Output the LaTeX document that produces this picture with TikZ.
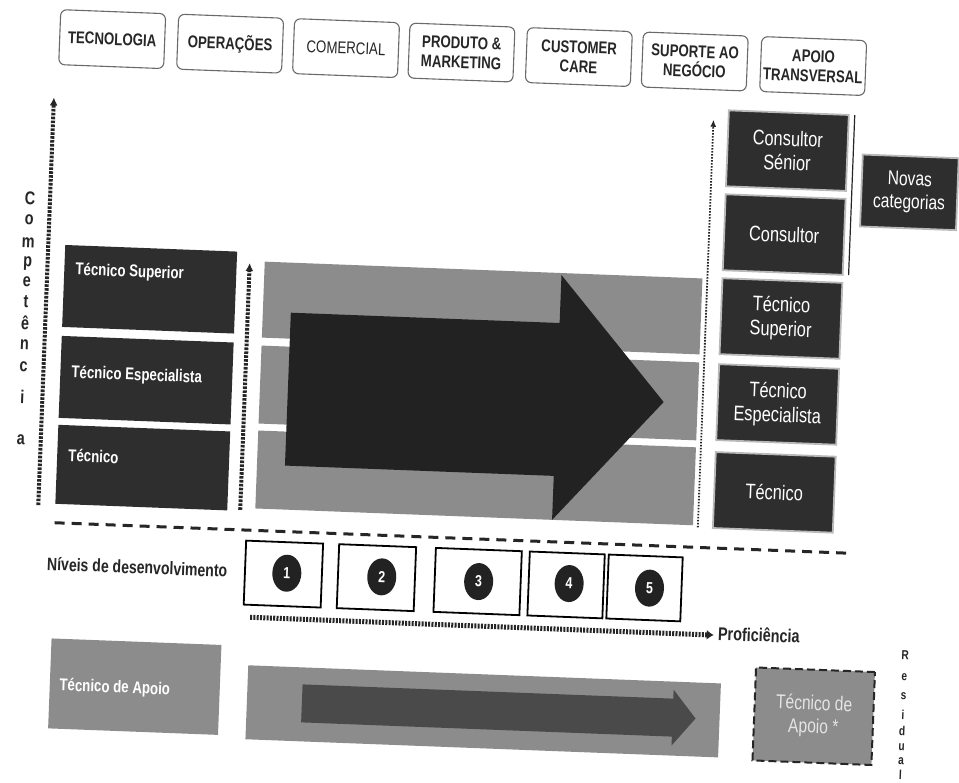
\documentclass[tikz,border=0pt]{standalone}
\usepackage{fontspec}
\setmainfont{Liberation Sans}[FakeStretch=0.78]
\usetikzlibrary{arrows.meta,shapes.geometric}
\definecolor{dk}{HTML}{2E2E2E}
\definecolor{dkarrow}{HTML}{222222}
\definecolor{band}{HTML}{8C8C8C}
\definecolor{midarrow}{HTML}{4A4A4A}
\definecolor{frame}{HTML}{6A6A6A}
\definecolor{ink}{HTML}{262626}
\definecolor{softwhite}{HTML}{E4E4E4}
\begin{document}
\begin{tikzpicture}[x=1pt,y=-1pt,
  topbox/.style={draw=frame,line width=1.1pt,rounded corners=6pt,minimum width=105pt,minimum height=55pt,inner sep=0pt,align=center,text=ink,font={\bfseries\fontsize{17}{19.5}\selectfont}},
  topboxreg/.style={topbox,font={\fontsize{17}{19.5}\selectfont}},
  lbox/.style={fill=dk,minimum width=172pt,inner sep=0pt},
  llabel/.style={anchor=west,inner sep=0pt,text=white,font={\bfseries\fontsize{17}{18}\selectfont}},
  rbox/.style={fill=dk,draw=gray!55,line width=1.8pt,minimum width=120pt,minimum height=76pt,inner sep=0pt,align=center,text=white,font={\fontsize{21}{24}\selectfont}},
  lvlbox/.style={draw=black,line width=1.8pt,fill=white,minimum height=64pt,inner sep=0pt},
  lvlnum/.style={ellipse,fill=dkarrow,minimum width=29pt,minimum height=37pt,inner sep=0pt,text=white,font={\bfseries\fontsize{16}{16}\selectfont}},
  axislet/.style={inner sep=0pt,text=ink,font={\bfseries\fontsize{18.5}{19}\selectfont}},
  reslet/.style={inner sep=0pt,text=ink,font={\bfseries\fontsize{13}{13}\selectfont}},
  thickaxis/.style={draw=ink,line width=4pt,dash pattern=on 2.6pt off 1.3pt,-{Latex[length=8pt,width=8pt]}},
  thinaxis/.style={draw=ink,line width=1.8pt,dash pattern=on 1.6pt off 1.4pt,-{Latex[length=7pt,width=6pt]}},
  sepline/.style={draw=ink,line width=3pt,dash pattern=on 10pt off 7pt}
]
\fill[white] (0,0) rectangle (959,783);
\useasboundingbox (0,0) rectangle (959,783);
\begin{scope}[rotate around={-2.2:(480,390)},transform shape]

% top categories
\node[topbox]    (tec) at (99,53.5)    {TECNOLOGIA};
\node[topbox]    (ope) at (217,53.5)   {OPERAÇÕES};
\node[topboxreg] (com) at (333,53.5)   {COMERCIAL};
\node[topbox]    (pro) at (448.5,53.5) {PRODUTO \&\\MARKETING};
\node[topbox]    (cus) at (566,53.5)   {CUSTOMER\\CARE};
\node[topbox]    (sup) at (682,53.5)   {SUPORTE AO\\NEGÓCIO};
\node[topbox]    (apo) at (800.5,53.5) {APOIO\\TRANSVERSAL};

% competencia axis
\coordinate (ax1s) at (43,522);
\coordinate (ax1e) at (43,114);
\draw[thickaxis] (ax1s) -- (ax1e);
\foreach \ch/\yy [count=\k] in {C/215.7,o/237.4,m/260.7,p/280.7,e/299.1,t/319.1,ê/340.7,n/362.4,c/384.1,i/414.1,a/457.4}
  \node[axislet] (comp\k) at (23,\yy) {\ch};

% left boxes
\node[lbox,minimum height=82pt] (lts) at (146,302) {};
\node[lbox,minimum height=82pt] (lte) at (146,393) {};
\node[lbox,minimum height=79pt] (lt)  at (146,480.5) {};
\node[llabel] (ltsl) at (71,286) {Técnico Superior};
\node[llabel] (ltel) at (71,389) {Técnico Especialista};
\node[llabel] (ltl)  at (71,471) {Técnico};

% second axis
\coordinate (ax2s) at (245,519);
\coordinate (ax2e) at (245,272);
\draw[thickaxis] (ax2s) -- (ax2e);

% bands
\fill[band] (260,270) rectangle (698,346);
\fill[band] (260,354) rectangle (698,432);
\fill[band] (260,439) rectangle (698,517);
% big arrow
\fill[dkarrow] (288,320) -- (557,320) -- (557,272) -- (664,395) -- (557,517) -- (557,473) -- (288,473) -- cycle;

% right axis
\coordinate (ax3s) at (703,519);
\coordinate (ax3e) at (703,111);
\draw[thinaxis] (ax3s) -- (ax3e);

% right boxes
\node[rbox] (rcs) at (778,139) {Consultor\\Sénior};
\node[rbox] (rc)  at (778,223) {Consultor};
\node[rbox] (rts) at (778,307) {Técnico\\Superior};
\node[rbox] (rte) at (778,393) {Técnico\\Especialista};
\node[rbox] (rt)  at (778,481) {Técnico};
\coordinate (br1) at (844,101);
\coordinate (br2) at (844,261);
\draw[ink,line width=1.2pt] (br1) -- (br2);
\node[rbox,minimum width=96pt,minimum height=72pt,font={\fontsize{20}{23}\selectfont}] (nov) at (901.5,176) {Novas\\categorias};

% separator
\coordinate (sep1) at (60,539);
\coordinate (sep2) at (856,539);
\draw[sepline] (sep1) -- (sep2);

% levels
\node[inner sep=0pt,text=ink,font={\bfseries\fontsize{18}{18}\selectfont}] (niv) at (144.3,580.2) {Níveis de desenvolvimento};
\node[lvlbox,minimum width=77pt] (lv1) at (290.6,581.5) {};
\node[lvlbox,minimum width=77pt] (lv2) at (383.7,581.5) {};
\node[lvlbox,minimum width=86pt] (lv3) at (485,581.5) {};
\node[lvlbox,minimum width=75pt] (lv4) at (573.5,581.5) {};
\node[lvlbox,minimum width=74pt] (lv5) at (652,581.5) {};
\node[lvlnum] (n1) at (294,580.5) {1};
\node[lvlnum] (n2) at (389,580.5) {2};
\node[lvlnum] (n3) at (486,581.5) {3};
\node[lvlnum] (n4) at (576.5,580) {4};
\node[lvlnum] (n5) at (657,581.5) {5};

% proficiencia axis
\coordinate (ax4s) at (259,626);
\coordinate (ax4e) at (723,626);
\draw[draw=ink,line width=5pt,dash pattern=on 2pt off 1.3pt,-{Latex[length=7pt,width=10pt]}] (ax4s) -- (ax4e);
\node[anchor=west,inner sep=0pt,text=ink,font={\bfseries\fontsize{18.5}{18.5}\selectfont}] (prof) at (727,624) {Proficiência};

% bottom row
\node[fill=band,minimum width=170pt,minimum height=90pt,inner sep=0pt] (apb) at (146.4,699.7) {};
\node[anchor=west,inner sep=0pt,text=white,font={\bfseries\fontsize{17}{18}\selectfont}] (apl) at (71,702) {Técnico de Apoio};
\fill[band] (259,674) rectangle (732,748);
\fill[midarrow] (314,691) -- (685,691) -- (685,682) -- (708,710) -- (685,738) -- (685,729) -- (314,729) -- cycle;
\node[fill=band,draw=ink,line width=2pt,dash pattern=on 8pt off 4pt,minimum width=119pt,minimum height=93pt,inner sep=0pt,align=center,text=softwhite,font={\fontsize{20}{23}\selectfont}] (aps) at (826,703.2) {Técnico de\\Apoio *};
\foreach \ch/\yy [count=\k] in {R/639,e/661,s/680,i/698,d/715,u/731,a/745,l/758}
  \node[reslet] (res\k) at (915,\yy) {\ch};

\end{scope}
\end{tikzpicture}
\end{document}
